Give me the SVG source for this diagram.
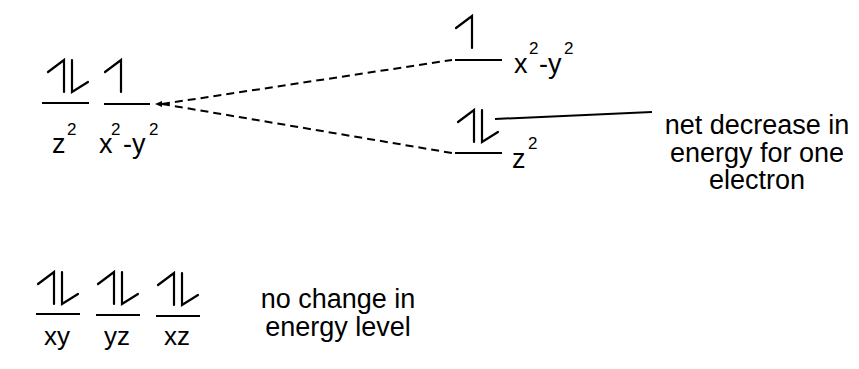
<svg xmlns="http://www.w3.org/2000/svg" width="859" height="369" viewBox="0 0 859 369">
<style>
.lvl{stroke:#000;stroke-width:2;fill:none}
.arr{stroke:#000;stroke-width:2.2;fill:none;stroke-linecap:round;stroke-linejoin:miter}
.dash{stroke:#000;stroke-width:2;fill:none;stroke-dasharray:8 5}
.t{font-family:"Liberation Sans",Arial,sans-serif;font-size:27px;fill:#000}
.l{font-family:"Liberation Sans",Arial,sans-serif;font-size:26px;fill:#000}
.s{font-family:"Liberation Sans",Arial,sans-serif;font-size:17px;fill:#000}
</style>
<defs>
<path id="up" d="M0,32 V0 L-16,12"/>
<path id="down" d="M0,0 V32 L16,22"/>
</defs>
<rect width="859" height="369" fill="#fff"/>
<g id="connectors">
<line class="dash" x1="162" y1="104" x2="452" y2="60"/>
<line class="dash" x1="162" y1="104" x2="452" y2="153"/>
<path d="M155,104 L162,101 L162,107 Z" fill="#000"/>
<line class="lvl" x1="495" y1="119" x2="652" y2="112"/>
</g>
<g id="z2-left">
<line class="lvl" x1="42" y1="103" x2="89" y2="103"/>
<use href="#up" class="arr" x="64" y="60"/>
<use href="#down" class="arr" x="72" y="60"/>
<text class="t" x="52" y="153">z</text><text class="s" x="67" y="135">2</text>
</g>
<g id="x2y2-left">
<line class="lvl" x1="104" y1="104" x2="150" y2="104"/>
<use href="#up" class="arr" x="121" y="60"/>
<text class="t" x="99" y="153">x</text><text class="s" x="111" y="135">2</text>
<text class="t" x="123" y="153">-y</text><text class="s" x="149" y="135">2</text>
</g>
<g id="x2y2-right">
<line class="lvl" x1="455" y1="60" x2="502" y2="60"/>
<use href="#up" class="arr" x="472" y="16"/>
<text class="t" x="514" y="73">x</text><text class="s" x="529" y="54">2</text>
<text class="t" x="539" y="73">-y</text><text class="s" x="564" y="54">2</text>
</g>
<g id="z2-right">
<line class="lvl" x1="455" y1="153" x2="502" y2="153"/>
<use href="#up" class="arr" x="474" y="110"/>
<use href="#down" class="arr" x="482" y="110"/>
<text class="t" x="512" y="168">z</text><text class="s" x="528" y="149">2</text>
</g>
<g id="note-decrease">
<text class="t" text-anchor="middle"><tspan x="757" y="134">net decrease in</tspan><tspan x="757" y="161.5">energy for one</tspan><tspan x="757" y="189">electron</tspan></text>
</g>
<g id="xy">
<line class="lvl" x1="36" y1="314" x2="80" y2="314"/>
<use href="#up" class="arr" x="54" y="272"/>
<use href="#down" class="arr" x="62" y="272"/>
<text class="l" x="57" y="345" text-anchor="middle">xy</text>
</g>
<g id="yz">
<line class="lvl" x1="96" y1="315" x2="140" y2="315"/>
<use href="#up" class="arr" x="114" y="272"/>
<use href="#down" class="arr" x="122" y="272"/>
<text class="l" x="117" y="345" text-anchor="middle">yz</text>
</g>
<g id="xz">
<line class="lvl" x1="156" y1="316" x2="200" y2="316"/>
<use href="#up" class="arr" x="174" y="273"/>
<use href="#down" class="arr" x="182" y="273"/>
<text class="l" x="177" y="345" text-anchor="middle">xz</text>
</g>
<g id="note-nochange">
<text class="t" text-anchor="middle"><tspan x="338" y="308">no change in</tspan><tspan x="338" y="336">energy level</tspan></text>
</g>
</svg>
